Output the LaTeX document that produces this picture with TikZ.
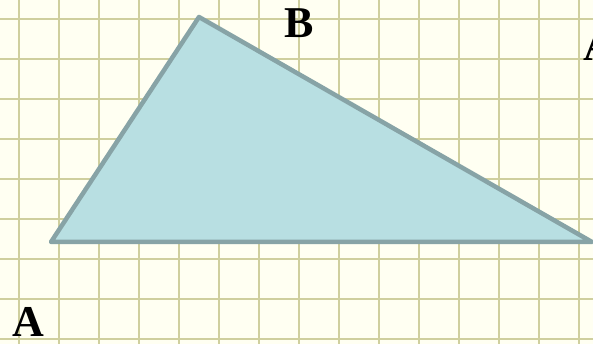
\documentclass[tikz,border=0pt]{standalone}
\usepackage{fontspec}
\setmainfont{Liberation Serif}
\usepackage{tikz}
\usetikzlibrary{positioning,calc}
\definecolor{paper}{HTML}{FFFFF2}
\definecolor{gridcol}{HTML}{CFCF9E}
\definecolor{trifill}{HTML}{B8DFE2}
\definecolor{triedge}{HTML}{87A3A6}
\tikzstyle{gridline}=[draw=gridcol, line width=1.8pt]
\tikzstyle{triangle}=[draw=triedge, fill=trifill, line width=4.5pt, line join=round]
\tikzstyle{vertexlabel}=[inner sep=0pt, font=\fontsize{44}{44}\selectfont\bfseries]

\begin{document}
\begin{tikzpicture}[x=1pt, y=1pt]

        % Paper
        \fill[paper] (0,0) rectangle (593,344);
        \useasboundingbox (0,0) rectangle (593,344);

        % Grid
        \foreach \gx in {19,59,...,579}
            \draw[gridline] (\gx,0) -- (\gx,344);
        \foreach \gy in {5,45,...,325}
            \draw[gridline] (0,\gy) -- (593,\gy);

        % Define Vertices
        \coordinate (A) at (51,102);
        \coordinate (B) at (199,327);
        \coordinate (C) at (592,102);

        % Draw Triangle
        \draw[triangle] (A) -- (B) -- (C) -- cycle;

        % Labels
        \node (labelB) [vertexlabel] at (299,321) {B};
        \node (labelA) [vertexlabel] at (28,22) {A};
        \node (labelC) [vertexlabel] at (599,298) {A};

\end{tikzpicture}
\end{document}
